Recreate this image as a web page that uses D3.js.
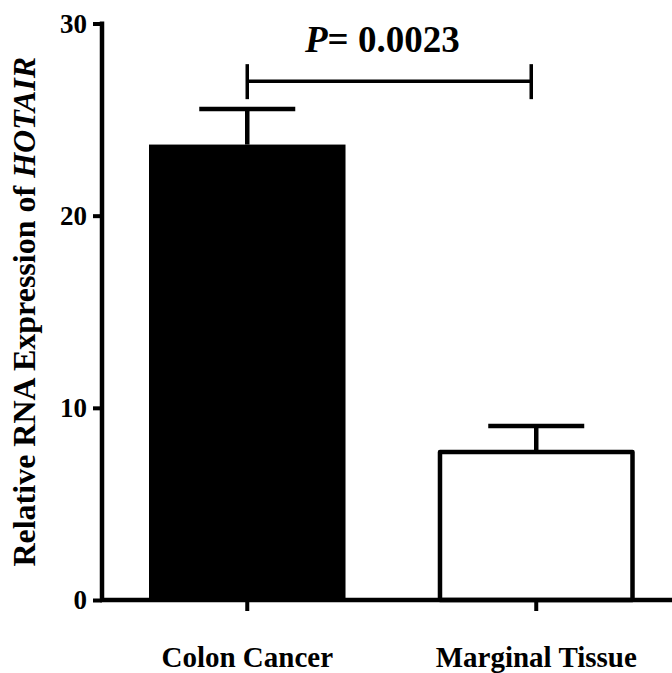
<!DOCTYPE html>
<html lang="en">
<head>
    <meta charset="UTF-8">
    <title>Relative RNA Expression of HOTAIR</title>
    <script src="https://d3js.org/d3.v7.min.js"></script>
    <style>
        body { margin: 0; background: #fff; }
        svg { display: block; }
        text { font-family: "Liberation Serif", "Times New Roman", serif; font-weight: bold; fill: #000; }
    </style>
</head>
<body>
    <svg width="672" height="673"></svg>
    <script>
        // data
        const categories = ["Colon Cancer", "Marginal Tissue"];
        const means = [23.7, 7.7];
        const errors = [1.85, 1.35];
        const fills = ["#000", "#fff"];
        const yTicks = [0, 10, 20, 30];
        const pLabel = "0.0023";
        const bracketLevel = 27;

        const svg = d3.select("svg");

        const y = d3.scaleLinear().domain([0, 30]).range([600, 23.5]);
        const x = d3.scaleBand()
            .domain(categories)
            .range([149, 634.5])
            .paddingInner(0.32)
            .paddingOuter(0);

        const bars = categories.map((c, i) => ({ cat: c, mean: means[i], err: errors[i], fill: fills[i] }));

        // bars
        svg.selectAll("rect.bar")
            .data(bars)
            .join("rect")
            .attr("class", "bar")
            .attr("x", d => x(d.cat) + (d.fill === "#fff" ? 2 : 0))
            .attr("width", d => x.bandwidth() - (d.fill === "#fff" ? 4 : 0))
            .attr("y", d => y(d.mean))
            .attr("height", d => y(0) - y(d.mean))
            .attr("fill", d => d.fill)
            .attr("stroke", "#000")
            .attr("stroke-width", d => d.fill === "#fff" ? 4.5 : 0)
            .attr("stroke-linejoin", "round");

        // error bars (upper only)
        const capHalf = 48;
        const eb = svg.selectAll("g.err").data(bars).join("g").attr("class", "err")
            .attr("stroke", "#000").attr("stroke-width", 4.5);
        eb.append("line")
            .attr("x1", d => x(d.cat) + x.bandwidth() / 2)
            .attr("x2", d => x(d.cat) + x.bandwidth() / 2)
            .attr("y1", d => y(d.mean))
            .attr("y2", d => y(d.mean + d.err));
        eb.append("line")
            .attr("x1", d => x(d.cat) + x.bandwidth() / 2 - capHalf)
            .attr("x2", d => x(d.cat) + x.bandwidth() / 2 + capHalf)
            .attr("y1", d => y(d.mean + d.err))
            .attr("y2", d => y(d.mean + d.err));

        // y axis
        const yAxis = svg.append("g")
            .attr("transform", "translate(102,0)")
            .call(d3.axisLeft(y).tickValues(yTicks).tickSize(9).tickPadding(6).tickSizeOuter(0));
        yAxis.select(".domain").attr("stroke-width", 4.5).attr("d", `M0,${y(30) - 2}V${y(0)}`);
        yAxis.selectAll(".tick line").attr("stroke-width", 4);
        yAxis.selectAll(".tick text").style("font-size", "27px")
            .style("font-family", "'Liberation Serif', serif").style("font-weight", "bold");

        // x axis
        const xAxis = svg.append("g")
            .attr("transform", `translate(0,${y(0)})`)
            .call(d3.axisBottom(x).tickSize(11).tickPadding(35).tickSizeOuter(0));
        xAxis.select(".domain").attr("stroke-width", 4.5).attr("d", `M100,0H672`);
        xAxis.selectAll(".tick line").attr("stroke-width", 4);
        xAxis.selectAll(".tick text").style("font-size", "29px")
            .style("font-family", "'Liberation Serif', serif").style("font-weight", "bold");

        // y label
        svg.append("text")
            .attr("transform", `translate(35,${(y(0) + y(30)) / 2}) rotate(-90)`)
            .attr("text-anchor", "middle")
            .style("font-size", "32px")
            .text("Relative RNA Expression of ")
            .append("tspan").style("font-style", "italic").text("HOTAIR");

        // significance bracket
        const bx1 = x(categories[0]) + x.bandwidth() / 2;
        const bx2 = x(categories[1]) + x.bandwidth() / 2 - 5;
        const by = y(bracketLevel);
        const br = svg.append("g").attr("stroke", "#000").attr("stroke-width", 3.5);
        br.append("line").attr("x1", bx1).attr("x2", bx2).attr("y1", by).attr("y2", by);
        br.append("line").attr("x1", bx1).attr("x2", bx1).attr("y1", by - 17).attr("y2", by + 18);
        br.append("line").attr("x1", bx2).attr("x2", bx2).attr("y1", by - 17).attr("y2", by + 18);

        const pt = svg.append("text")
            .attr("x", 305)
            .attr("y", 52)
            .style("font-size", "37px");
        pt.append("tspan").style("font-style", "italic").text("P");
        pt.append("tspan").text("= " + pLabel);
    </script>
</body>
</html>
